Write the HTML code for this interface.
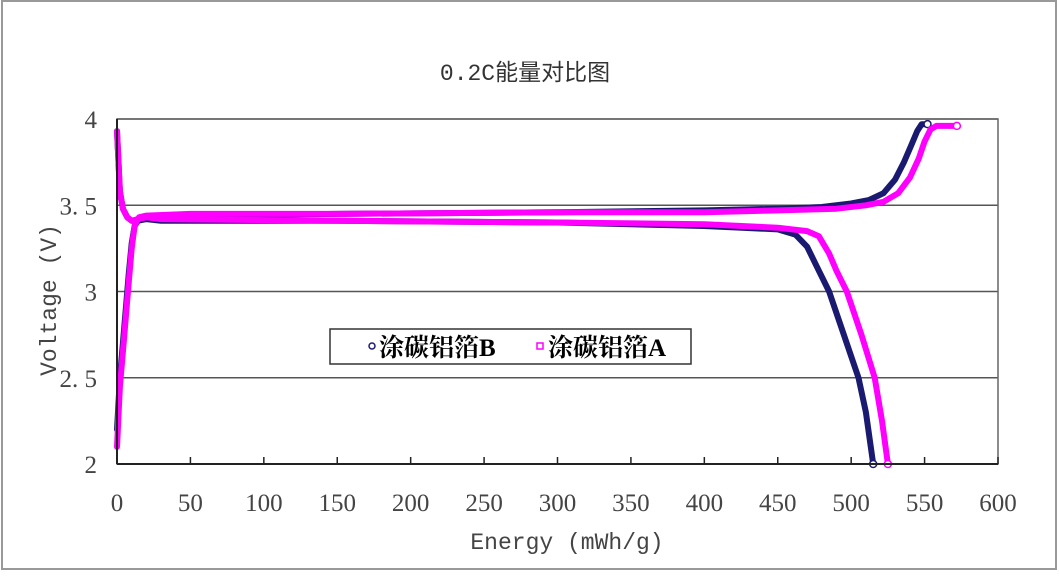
<!DOCTYPE html>
<html><head><meta charset="utf-8"><style>
html,body{margin:0;padding:0;background:#fff;}
body{width:1060px;height:572px;overflow:hidden;font-family:"Liberation Serif","Noto Serif CJK SC",serif;}
</style></head><body>
<svg width="1060" height="572" xmlns="http://www.w3.org/2000/svg">
<rect x="2" y="1" width="1054" height="568" fill="#fff" stroke="#999" stroke-width="2"/>
<text x="525" y="80" text-anchor="middle" font-size="23" fill="#333" font-family="Liberation Mono, Noto Sans CJK SC, monospace">0.2C能量对比图</text>
<g id="grid"></g>
<g id="series"></g>
<g id="axes"></g>
<text x="567" y="549" text-anchor="middle" font-size="23" fill="#444" font-family="Liberation Mono, Noto Sans CJK SC, monospace">Energy (mWh/g)</text>
<text transform="translate(56,300) rotate(-90)" text-anchor="middle" font-size="23" fill="#444" font-family="Liberation Mono, Noto Sans CJK SC, monospace">Voltage (V)</text>
<g>
<rect x="330" y="329" width="361" height="35" fill="#fff" stroke="#333" stroke-width="1.5"/>
<circle cx="372" cy="346" r="3" fill="#fff" stroke="#1a1a80" stroke-width="1.5"/>
<text x="379" y="356" font-size="25" font-weight="bold" fill="#000">涂碳铝箔B</text>
<rect x="537" y="343" width="6" height="6" fill="#fff" stroke="#f0f" stroke-width="1.5"/>
<text x="548" y="356" font-size="25" font-weight="bold" fill="#000">涂碳铝箔A</text>
</g>
</svg>
<script>
const xTicks=[0,50,100,150,200,250,300,350,400,450,500,550,600];
const yTicks=[2,2.5,3,3.5,4];
const yTickLabels=["2","3. 5","3","3. 5","4"].map((s,i)=>["2","2. 5","3","3. 5","4"][i]);
const chargeBX=[0,2,4,6,8,10,12,15,20,50,150,300,400,450,480,500,512,522,530,536,541,545,548,552];
const chargeBY=[2.2,2.5,2.7,2.9,3.1,3.28,3.38,3.42,3.43,3.44,3.45,3.46,3.47,3.48,3.49,3.51,3.53,3.57,3.65,3.75,3.85,3.93,3.97,3.97];
const dischargeBX=[0,1,2,4,7,10,14,20,30,150,300,400,450,462,470,478,485,495,505,510,515];
const dischargeBY=[3.93,3.75,3.58,3.48,3.43,3.41,3.41,3.42,3.41,3.41,3.40,3.38,3.36,3.33,3.26,3.12,3.0,2.75,2.5,2.3,2.0];
const chargeAX=[0,2,4,6,8,10,12,15,20,50,150,300,400,450,490,510,522,532,540,546,550,554,558,572];
const chargeAY=[2.1,2.45,2.65,2.85,3.05,3.25,3.38,3.43,3.44,3.45,3.45,3.46,3.46,3.47,3.48,3.5,3.52,3.57,3.66,3.77,3.87,3.94,3.96,3.96];
const dischargeAX=[0,1,2,4,7,10,14,20,30,150,300,400,450,470,478,485,490,497,507,516,521,525];
const dischargeAY=[3.93,3.75,3.58,3.48,3.43,3.41,3.42,3.43,3.42,3.41,3.40,3.39,3.37,3.35,3.32,3.22,3.12,3.0,2.75,2.5,2.25,2.0];
const X0=117,X1=998,Y0=464,Y1=119;
const sx=v=>X0+(v-0)/(600-0)*(X1-X0);
const sy=v=>Y0-(v-2)/(4-2)*(Y0-Y1);
const NS="http://www.w3.org/2000/svg";
function mk(t,a,p){const e=document.createElementNS(NS,t);for(const k in a)e.setAttribute(k,a[k]);p.appendChild(e);return e;}
const grid=document.getElementById('grid'),axes=document.getElementById('axes'),ser=document.getElementById('series');
yTicks.forEach((v,i)=>{
 const l=mk('line',{x1:X0,x2:X1,y1:sy(v),y2:sy(v),stroke:'#555','stroke-width':1.5},grid);
 
 
 const t=mk('text',{x:X0-20,y:sy(v)+9,'text-anchor':'end','font-size':25,fill:'#444'},axes);
 t.textContent=yTickLabels[i];
 
 
});
const fr=mk('rect',{x:X0,y:Y1,width:X1-X0,height:Y0-Y1,fill:'none',stroke:'#666','stroke-width':1.5},axes);


const la=mk('line',{x1:X0,x2:X0,y1:Y1,y2:Y0,stroke:'#222','stroke-width':2},axes);


const lb=mk('line',{x1:X0,x2:X1,y1:Y0,y2:Y0,stroke:'#222','stroke-width':2},axes);


xTicks.forEach(v=>{
 const tk=mk('line',{x1:sx(v),x2:sx(v),y1:Y0,y2:Y0-7,stroke:'#222','stroke-width':1.5},axes);
 
 
 const t=mk('text',{x:sx(v),y:Y0+47,'text-anchor':'middle','font-size':25,fill:'#444'},axes);
 t.textContent=String(v);
 
 
});
function draw(xs,ys,color,name){
 const d=xs.map((x,i)=>(i?'L':'M')+sx(x).toFixed(1)+','+sy(ys[i]).toFixed(1)).join(' ');
 const p=mk('path',{d:d,fill:'none',stroke:color,'stroke-width':6,'stroke-linejoin':'round','stroke-linecap':'round'},ser);
 
 
 const c=mk('circle',{cx:sx(xs[xs.length-1]),cy:sy(ys[ys.length-1]),r:3.5,fill:'#fff',stroke:color,'stroke-width':1.5},ser);
 
 
}
draw(chargeBX,chargeBY,'#1a1a70','charge-curve-b');
draw(dischargeBX,dischargeBY,'#1a1a70','discharge-curve-b');
draw(chargeAX,chargeAY,'#ff00ff','charge-curve-a');
draw(dischargeAX,dischargeAY,'#ff00ff','discharge-curve-a');
</script>
</body></html>
